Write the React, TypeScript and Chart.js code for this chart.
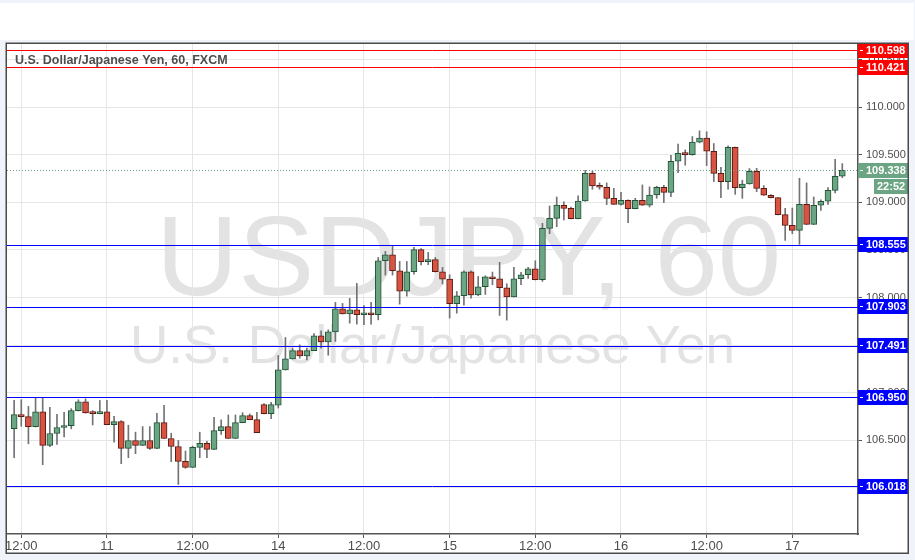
import { useEffect, useRef } from "react";
import { Chart, registerables } from "chart.js";

Chart.register(...registerables);

// ---------------- data ----------------
const dayLabels = ["10", "11", "14", "15", "16", "17"];
const firstHour = 11;

const opens = [
  106.623, 106.769, 106.748, 106.644, 106.800, 106.446, 106.571, 106.634, 106.654, 106.811,
  106.905, 106.790, 106.780, 106.800, 106.665, 106.696, 106.415, 106.498, 106.446, 106.498,
  106.415, 106.686, 106.519, 106.435, 106.279, 106.216, 106.425, 106.467, 106.404, 106.602,
  106.644, 106.519, 106.686, 106.759, 106.717, 106.874, 106.780, 106.870, 107.240, 107.356,
  107.443, 107.387, 107.443, 107.598, 107.535, 107.640, 107.882, 107.829, 107.871, 107.819,
  107.840, 107.819, 108.387, 108.450, 108.282, 108.068, 108.271, 108.503, 108.377, 108.398,
  108.271, 108.194, 107.935, 108.019, 108.271, 108.029, 108.114, 108.219, 108.198, 108.103,
  108.008, 108.198, 108.240, 108.303, 108.187, 108.727, 108.833, 108.970, 108.938, 108.829,
  109.015, 109.306, 109.173, 109.159, 109.043, 108.980, 109.022, 108.935, 109.022, 108.970,
  109.078, 109.159, 109.106, 109.433, 109.517, 109.503, 109.633, 109.675, 109.538, 109.306,
  109.219, 109.580, 109.156, 109.194, 109.327, 109.148, 109.075, 109.050, 108.871, 108.759,
  108.706, 108.980, 108.770, 108.970, 109.012, 109.127, 109.275,
];
const highs = [
  106.919, 106.926, 106.856, 106.943, 106.943, 106.846, 106.773, 106.794, 106.832, 106.926,
  106.936, 106.811, 106.919, 106.919, 106.752, 106.707, 106.658, 106.585, 106.644, 106.644,
  106.783, 106.867, 106.574, 106.498, 106.387, 106.439, 106.585, 106.488, 106.741, 106.714,
  106.766, 106.766, 106.790, 106.777, 106.794, 106.887, 106.898, 107.391, 107.580, 107.468,
  107.503, 107.468, 107.622, 107.650, 107.661, 107.949, 107.938, 107.991, 108.149, 107.917,
  107.949, 108.422, 108.485, 108.538, 108.380, 108.380, 108.528, 108.514, 108.475, 108.422,
  108.317, 108.240, 108.064, 108.282, 108.282, 108.222, 108.229, 108.268, 108.370, 108.145,
  108.317, 108.264, 108.317, 108.387, 108.780, 108.963, 109.057, 109.005, 108.952, 109.068,
  109.338, 109.331, 109.205, 109.205, 109.148, 109.106, 109.026, 109.043, 109.184, 109.163,
  109.170, 109.180, 109.496, 109.612, 109.552, 109.692, 109.752, 109.742, 109.619, 109.370,
  109.594, 109.582, 109.233, 109.356, 109.359, 109.177, 109.082, 109.052, 108.938, 108.941,
  109.254, 109.205, 109.057, 109.026, 109.156, 109.454, 109.408,
];
const lows = [
  106.317, 106.647, 106.463, 106.640, 106.244, 106.432, 106.456, 106.536, 106.620, 106.808,
  106.785, 106.661, 106.778, 106.663, 106.481, 106.254, 106.317, 106.359, 106.444, 106.404,
  106.413, 106.517, 106.275, 106.036, 106.206, 106.214, 106.317, 106.317, 106.402, 106.561,
  106.517, 106.517, 106.684, 106.715, 106.579, 106.778, 106.727, 106.839, 107.238, 107.354,
  107.363, 107.345, 107.441, 107.468, 107.394, 107.538, 107.827, 107.731, 107.721, 107.714,
  107.721, 107.766, 108.236, 108.236, 107.931, 108.015, 108.247, 108.342, 108.345, 108.269,
  108.142, 107.784, 107.836, 107.921, 107.994, 108.019, 108.033, 108.135, 107.812, 107.763,
  108.006, 108.135, 108.201, 108.185, 108.170, 108.671, 108.745, 108.815, 108.827, 108.827,
  109.012, 109.138, 109.138, 108.977, 108.978, 108.970, 108.787, 108.933, 108.968, 108.952,
  109.043, 108.998, 109.061, 109.313, 109.391, 109.496, 109.626, 109.387, 109.219, 109.050,
  109.138, 109.085, 109.043, 109.192, 109.113, 109.073, 109.047, 108.869, 108.601, 108.671,
  108.559, 108.768, 108.768, 108.917, 108.980, 109.099, 109.261,
];
const closes = [
  106.769, 106.748, 106.644, 106.800, 106.446, 106.571, 106.634, 106.654, 106.811, 106.905,
  106.787, 106.780, 106.800, 106.665, 106.696, 106.415, 106.498, 106.446, 106.498, 106.415,
  106.686, 106.519, 106.435, 106.279, 106.216, 106.425, 106.467, 106.404, 106.602, 106.644,
  106.519, 106.686, 106.759, 106.717, 106.581, 106.780, 106.874, 107.240, 107.356, 107.443,
  107.387, 107.443, 107.598, 107.535, 107.640, 107.882, 107.829, 107.871, 107.819, 107.840,
  107.819, 108.387, 108.450, 108.282, 108.068, 108.271, 108.503, 108.377, 108.398, 108.271,
  108.194, 107.935, 108.019, 108.271, 108.029, 108.114, 108.219, 108.198, 108.103, 108.008,
  108.198, 108.240, 108.303, 108.187, 108.727, 108.833, 108.973, 108.938, 108.829, 109.015,
  109.306, 109.173, 109.159, 109.043, 108.980, 109.022, 108.935, 109.022, 108.970, 109.078,
  109.159, 109.106, 109.433, 109.517, 109.503, 109.633, 109.675, 109.538, 109.306, 109.219,
  109.580, 109.156, 109.194, 109.327, 109.148, 109.075, 109.050, 108.871, 108.759, 108.706,
  108.980, 108.770, 108.970, 109.012, 109.127, 109.275, 109.338,
];

const yTickValues = [106.0, 106.5, 107.0, 107.5, 108.0, 108.5, 109.0, 109.5, 110.0, 110.5];
const levelPrices = [110.598, 110.421, 108.555, 107.903, 107.491, 106.95, 106.018];
const levelColors = ["#ff0000", "#ff0000", "#0000ff", "#0000ff", "#0000ff", "#0000ff", "#0000ff"];
const countdownText = "22:52";
const titleText = "U.S. Dollar/Japanese Yen, 60, FXCM";
const watermarkSymbol = "USDJPY, 60";
const watermarkName = "U.S. Dollar/Japanese Yen";

// categories (hourly bar times)
const hours = opens.map((_, i) => (firstHour + i) % 24);
const categories: string[] = [];
{
  let d = 0;
  hours.forEach((h, i) => {
    if (h === 0 && i > 0) d++;
    categories.push(`${dayLabels[d]} ${String(h).padStart(2, "0")}:00`);
  });
}
const tickLabel = (i: number): string => {
  const h = hours[i];
  if (h === 0) return categories[i].split(" ")[0];
  if (h === 12) return "12:00";
  return "";
};

// ---------------- styles ----------------
const UP_FILL = "#6ba583";
const UP_BORDER = "#225437";
const DOWN_FILL = "#d75442";
const DOWN_BORDER = "#5b1a13";
const WICK = "#737375";
const FONT = "'Liberation Sans', Arial, sans-serif";
const NARROW = "'Liberation Sans Narrow', 'Arial Narrow', 'Liberation Sans', Arial, sans-serif";
const AXIS = "#555555";
const GRID = "#e6e6e6";

const chromePlugin = {
  id: "chrome",
  beforeDraw(chart: any) {
    const ctx = chart.ctx as CanvasRenderingContext2D;
    const W = chart.width;
    const H = chart.height;
    const a = chart.chartArea;
    ctx.save();
    ctx.fillStyle = "#f0f3fa";
    ctx.fillRect(0, 0, W, H);
    ctx.fillStyle = "#ffffff";
    ctx.fillRect(0, 3, W - 1, 37);
    ctx.fillRect(6, 43, 902, 510);
    // watermark
    ctx.fillStyle = "#e3e3e3";
    ctx.textBaseline = "alphabetic";
    ctx.textAlign = "left";
    ctx.font = `114px ${FONT}`;
    ctx.fillText(watermarkSymbol, 156, 295);
    ctx.textAlign = "center";
    ctx.font = `53px ${FONT}`;
    ctx.fillText(watermarkName, (a.left + a.right) / 2, 363);
    ctx.restore();
  },
  afterDatasetsDraw(chart: any) {
    const ctx = chart.ctx as CanvasRenderingContext2D;
    const a = chart.chartArea;
    const ys = chart.scales.y;
    ctx.save();
    ctx.beginPath();
    ctx.rect(a.left, a.top, a.right - a.left, a.bottom - a.top);
    ctx.clip();
    // last price dotted line
    const lastY = Math.round(ys.getPixelForValue(closes[closes.length - 1])) + 0.5;
    ctx.strokeStyle = UP_FILL;
    ctx.lineWidth = 1;
    ctx.setLineDash([1, 2]);
    ctx.beginPath();
    ctx.moveTo(a.left, lastY);
    ctx.lineTo(a.right, lastY);
    ctx.stroke();
    ctx.setLineDash([]);
    // horizontal levels
    levelPrices.forEach((p, k) => {
      const y = Math.round(ys.getPixelForValue(p)) + 0.5;
      ctx.strokeStyle = levelColors[k];
      ctx.beginPath();
      ctx.moveTo(a.left, y);
      ctx.lineTo(a.right, y);
      ctx.stroke();
    });
    ctx.restore();
  },
  afterDraw(chart: any) {
    const ctx = chart.ctx as CanvasRenderingContext2D;
    const a = chart.chartArea;
    const ys = chart.scales.y;
    ctx.save();
    ctx.beginPath();
    ctx.rect(6, 43, 902, 510);
    ctx.clip();
    const boxX = a.right;
    const boxW = 50;
    const boxH = 15;
    const drawBox = (y: number, color: string, text: string, x = boxX, w = boxW, dash = true) => {
      const top = Math.round(y - boxH / 2);
      ctx.fillStyle = color;
      ctx.fillRect(x, top, w, boxH);
      if (dash) {
        ctx.fillStyle = "#ffffff";
        ctx.fillRect(x + 2, top + 7, 3, 1);
      }
      ctx.fillStyle = "#ffffff";
      ctx.font = `bold 11px ${FONT}`;
      ctx.textAlign = "left";
      ctx.textBaseline = "middle";
      ctx.fillText(text, x + (dash ? 8 : 3), top + boxH / 2 + 0.5);
    };
    levelPrices.forEach((p, k) => drawBox(ys.getPixelForValue(p), levelColors[k], p.toFixed(3)));
    const lastY = ys.getPixelForValue(closes[closes.length - 1]);
    drawBox(lastY, UP_FILL, closes[closes.length - 1].toFixed(3));
    drawBox(lastY + boxH + 1.5, UP_FILL, countdownText, boxX + 16, boxW - 16, false);
    ctx.restore();

    // frame
    ctx.save();
    ctx.strokeStyle = "#4a4a4a";
    ctx.lineWidth = 1.5;
    ctx.strokeRect(6.25, 43.25, 902, 510);
    // title
    ctx.fillStyle = "#4d4d4d";
    ctx.font = `bold 12.5px ${FONT}`;
    ctx.textAlign = "left";
    ctx.textBaseline = "middle";
    ctx.fillText(titleText, 15, 61);
    ctx.restore();
  },
};

export default function App() {
  const ref = useRef<HTMLCanvasElement | null>(null);

  useEffect(() => {
    if (!ref.current) return;
    const bodyColors = opens.map((o, i) => (closes[i] >= o ? UP_FILL : DOWN_FILL));
    const bodyBorders = opens.map((o, i) => (closes[i] >= o ? UP_BORDER : DOWN_BORDER));
    const chart = new Chart(ref.current, {
      type: "bar",
      data: {
        datasets: [
          {
            label: "body",
            data: opens.map((o, i) => ({ x: i, y: [Math.min(o, closes[i]), Math.max(o, closes[i])] })) as any,
            backgroundColor: bodyColors,
            borderColor: bodyBorders,
            borderWidth: 1,
            borderSkipped: false,
            barThickness: 6,
            minBarLength: 2,
            grouped: false,
          } as any,
          {
            label: "wick",
            data: lows.map((l, i) => ({ x: i, y: [l, highs[i]] })) as any,
            backgroundColor: WICK,
            borderWidth: 0,
            barThickness: 1,
            grouped: false,
          } as any,
        ],
      },
      options: {
        animation: false,
        responsive: false,
        events: [],
        layout: { padding: { left: 7, top: 44, right: 7, bottom: 7 } },
        plugins: { legend: { display: false }, tooltip: { enabled: false } },
        scales: {
          x: {
            type: "linear",
            min: -1,
            max: 118.2,
            offset: false,
            afterBuildTicks: (axis: any) => {
              axis.ticks = categories
                .map((_, i) => i)
                .filter((i) => tickLabel(i) !== "")
                .map((i) => ({ value: i }));
            },
            afterFit: (axis: any) => {
              axis.height = 19;
            },
            ticks: {
              autoSkip: false,
              maxRotation: 0,
              padding: 1,
              color: "#4d4d4d",
              font: { family: NARROW, size: 13 },
              callback: (v: any) => tickLabel(Number(v)),
            },
            grid: { color: GRID, tickColor: AXIS, tickLength: 4, offset: false },
            border: { display: true, color: AXIS, width: 1.5 },
          },
          y: {
            type: "linear",
            position: "right",
            min: 105.515,
            max: 110.665,
            afterBuildTicks: (axis: any) => {
              axis.ticks = yTickValues.map((v) => ({ value: v }));
            },
            afterFit: (axis: any) => {
              axis.width = 50;
            },
            ticks: {
              padding: 4,
              color: "#4d4d4d",
              font: { family: FONT, size: 11 },
              callback: (v: any) => Number(v).toFixed(3),
            },
            grid: { color: GRID, tickColor: AXIS, tickLength: 4 },
            border: { display: true, color: AXIS, width: 1.5 },
          },
        },
      },
      plugins: [chromePlugin],
    });
    return () => chart.destroy();
  }, []);

  return (
    <div style={{ position: "fixed", left: 0, top: 0, width: 915, height: 560 }}>
      <canvas ref={ref} width={915} height={560} style={{ display: "block", width: 915, height: 560 }} />
    </div>
  );
}
